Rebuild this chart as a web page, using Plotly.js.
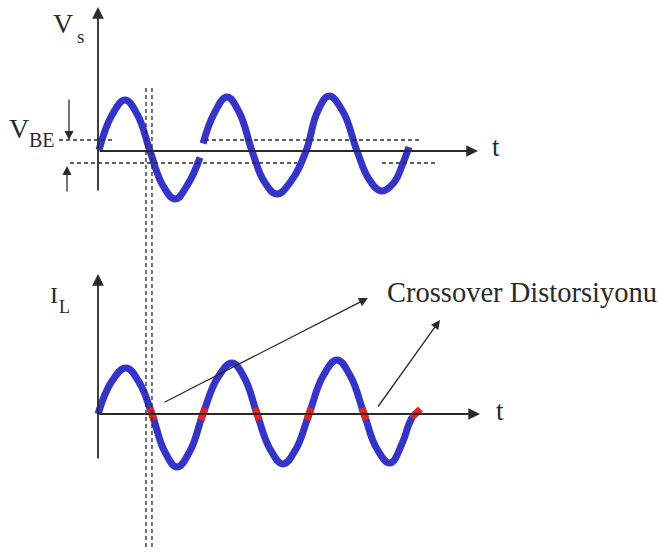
<!DOCTYPE html>
<html>
<head>
<meta charset="utf-8">
<script src="https://cdn.plot.ly/plotly-3.0.1.min.js"></script>
<style>html,body{margin:0;padding:0;background:#fff}#chart{width:660px;height:554px}</style>
</head>
<body>
<div id="chart"></div>
<script>
// ---- Data (t in periods of the input signal, v in amplitude units) ----
// Input signal Vs (top). null = small break at the second zero crossing.
const vsT = [0.01, 0.136, 0.262, 0.384, 0.505, 0.627, 0.748, 0.874, 0.99, null,
             1.02, 1.13, 1.252, 1.374, 1.495, 1.617, 1.738, 1.875, 2.02, 2.13, 2.243, 2.38, 2.515, 2.63, 2.748, 2.87, 2.96, 3.019];
const vsV = [0.02, 0.72, 1.02, 0.72, 0.0, -0.68, -0.96, -0.66, -0.13, null,
             0.15, 0.76, 1.08, 0.76, 0.0, -0.62, -0.86, -0.6, 0.0, 0.78, 1.1, 0.78, 0.0, -0.56, -0.8, -0.64, -0.25, 0.08];
// Load current IL (bottom)
const ilT = [0.0, 0.136, 0.272, 0.398, 0.524, 0.645, 0.767, 0.893, 1.019, 1.16, 1.301, 1.422, 1.544,
             1.67, 1.796, 1.922, 2.049, 2.185, 2.32, 2.45, 2.583, 2.709, 2.835, 2.96, 3.01, 3.05];
const ilV = [0.0, 0.66, 0.92, 0.64, 0.0, -0.74, -1.06, -0.74, 0.0, 0.72, 1.02, 0.72, 0.0,
             -0.7, -1.0, -0.7, 0.0, 0.76, 1.08, 0.76, 0.0, -0.7, -0.98, -0.55, -0.25, -0.06];
// Crossover distortion segments (red) on IL
const xoT = [0.504, 0.544, null, 0.999, 1.039, null, 1.524, 1.564, null, 2.029, 2.069, null, 2.563, 2.603, null, 3.045, 3.13];
const xoV = [0.12, -0.12, null, -0.12, 0.12, null, 0.12, -0.12, null, -0.12, 0.12, null, 0.12, -0.12, null, -0.07, 0.1];
// Threshold level VBE (amplitude units)
const vbeUp = 0.22, vbeDown = -0.24;
// Labels
const labels = {vs: 'V', vsSub: 's', vbe: 'V', vbeSub: 'BE', il: 'I', ilSub: 'L', t: 't', note: 'Crossover Distorsiyonu'};

const BLUE = '#3434c8', RED = '#e02424', INK = '#2a2a2a';
const serif = 'Liberation Serif, Times New Roman, serif';

const traces = [
  {x: vsT, y: vsV, mode: 'lines', line: {color: BLUE, width: 7, shape: 'spline', smoothing: 1.2}, connectgaps: false, hoverinfo: 'skip'},
  {x: ilT, y: ilV, yaxis: 'y2', mode: 'lines', line: {color: BLUE, width: 7, shape: 'spline', smoothing: 1.2}, hoverinfo: 'skip'},
  {x: xoT, y: xoV, yaxis: 'y2', mode: 'lines', line: {color: RED, width: 7}, connectgaps: false, hoverinfo: 'skip'}
];

function arrow(x, y, ax, ay, yr, w, sz) {
  return {x: x, y: y, ax: ax, ay: ay, xref: 'x', yref: yr, axref: 'x', ayref: yr, text: '',
          showarrow: true, arrowhead: 2, arrowsize: sz || 1.3, arrowwidth: w || 1.6, arrowcolor: INK, standoff: 0, startstandoff: 0};
}
function label(text, x, y, yr, size, xa) {
  return {x: x, y: y, xref: 'x', yref: yr, text: text, showarrow: false, xanchor: xa || 'left', yanchor: 'middle',
          font: {family: serif, size: size, color: INK}};
}

const annotations = [
  // axes
  arrow(0, 2.88, 0, -0.82, 'y', 1.8),
  arrow(3.689, 0, 0, 0, 'y', 1.8),
  arrow(0, 2.8, 0, -0.92, 'y2', 1.8),
  arrow(3.709, 0, 0, 0, 'y2', 1.8),
  // VBE arrows
  arrow(-0.2816, vbeUp, -0.2816, 1.06, 'y', 1.3, 1.4),
  arrow(-0.301, vbeDown - 0.06, -0.301, -0.84, 'y', 1.3, 1.4),
  // crossover pointers
  arrow(2.621, 2.32, 0.631, 0.22, 'y2', 1.3, 1.4),
  arrow(3.320, 1.88, 2.709, 0.12, 'y2', 1.3, 1.4),
  // text
  label(labels.vs, -0.46, 2.56, 'y', 28),
  label(labels.vsSub, -0.225, 2.3, 'y', 19),
  label(labels.vbe, -0.88, 0.46, 'y', 28),
  label(labels.vbeSub, -0.69, 0.22, 'y', 20),
  label(labels.t, 3.81, 0.08, 'y', 27),
  label(labels.il, -0.485, 2.38, 'y2', 24),
  label(labels.ilSub, -0.40, 2.14, 'y2', 18),
  label(labels.t, 3.84, 0.06, 'y2', 27),
  label(labels.note, 2.79, 2.44, 'y2', 28.5)
];

const dash = {color: INK, width: 1.3, dash: '4px,3px'};
const shapes = [
  {type: 'line', xref: 'x', yref: 'y', x0: -0.379, x1: 0.136, y0: vbeUp, y1: vbeUp, line: dash},
  {type: 'line', xref: 'x', yref: 'y', x0: 1.039, x1: 3.146, y0: vbeUp, y1: vbeUp, line: dash},
  {type: 'line', xref: 'x', yref: 'y', x0: -0.272, x1: 1.932, y0: vbeDown, y1: vbeDown, line: dash},
  {type: 'line', xref: 'x', yref: 'y', x0: 2.757, x1: 3.291, y0: vbeDown, y1: vbeDown, line: dash},
  {type: 'line', xref: 'x', yref: 'y', x0: 0.466, x1: 0.466, y0: 1.26, y1: -7.98, line: dash},
  {type: 'line', xref: 'x', yref: 'y', x0: 0.524, x1: 0.524, y0: 1.26, y1: -7.98, line: dash}
];

const hidden = {visible: false, showgrid: false, zeroline: false, fixedrange: true};
const layout = {
  width: 660, height: 554,
  margin: {l: 0, r: 0, t: 0, b: 0},
  paper_bgcolor: '#fff', plot_bgcolor: '#fff',
  showlegend: false,
  xaxis: Object.assign({range: [-0.95146, 5.45631]}, hidden),
  yaxis: Object.assign({range: [-8.06, 3.02]}, hidden),
  yaxis2: Object.assign({range: [-2.8, 8.28], overlaying: 'y'}, hidden),
  annotations: annotations,
  shapes: shapes
};
Plotly.newPlot('chart', traces, layout, {staticPlot: true, displayModeBar: false});
</script>
</body>
</html>
